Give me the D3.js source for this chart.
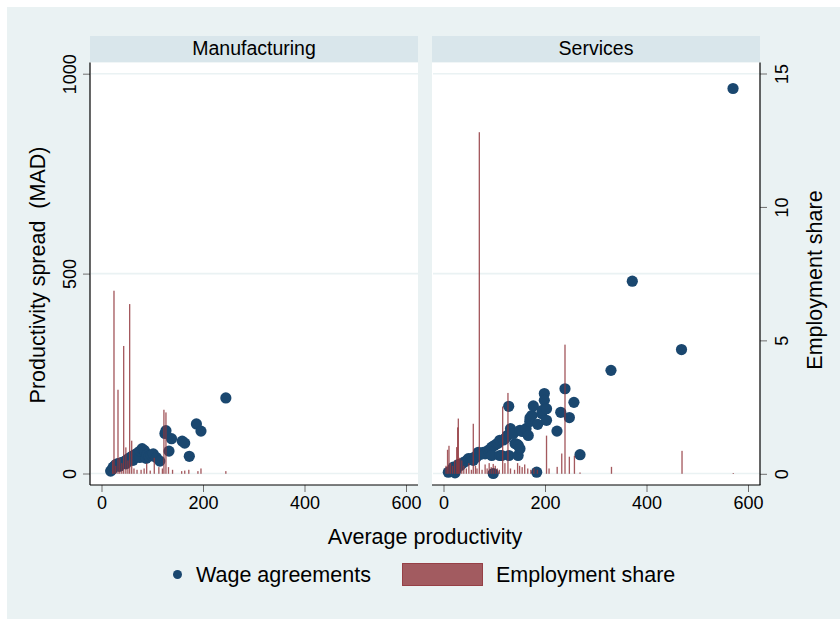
<!DOCTYPE html>
<html>
<head>
<meta charset="utf-8">
<script src="https://cdn.jsdelivr.net/npm/d3@7/dist/d3.min.js"></script>
<style>
  html, body { margin: 0; padding: 0; background: #ffffff; }
  svg { display: block; font-family: "Liberation Sans", Arial, sans-serif; }
</style>
</head>
<body>
<svg id="chart" width="840" height="619"></svg>
<script>
// Panels
const panelNames = ["Manufacturing", "Services"];

// Wage agreements: [average productivity, productivity spread (MAD)]
const manufacturingPoints = [
  [18, 6], [21, 10], [23, 16], [26, 19], [28, 22], [31, 24], [34, 25], [35, 18],
  [37, 26], [40, 27], [43, 28], [46, 31], [48, 24], [50, 34], [53, 37], [56, 39],
  [59, 42], [62, 33], [63, 45], [66, 47], [69, 49], [72, 52], [75, 40], [76, 56],
  [80, 62], [84, 58], [86, 53], [88, 38], [90, 47], [94, 43], [98, 46], [102, 49],
  [108, 40], [115, 31], [125, 100], [127, 107], [133, 56], [138, 87], [159, 81],
  [164, 76], [173, 43], [187, 124], [196, 106], [245, 189]
];
const servicesPoints = [
  [9.5, 3.3], [15, 6], [19.3, 16], [20.7, 7.5], [22.7, 1.7], [25, 10], [29, 22],
  [33, 20], [39, 27], [44, 31], [49, 37], [54, 35], [55.6, 38], [58.7, 33], [63, 42],
  [65, 41], [68.6, 53], [73, 48], [78.4, 53], [82, 49], [88.3, 58], [92, 60],
  [95, 66], [95, 45], [98, 0], [100, 70], [104.8, 74], [108, 76], [111, 83],
  [111, 45], [114.7, 45], [118, 84], [122, 88], [125.7, 95], [128.5, 168],
  [129, 45], [131, 100], [132, 112], [137.5, 100], [141, 75], [145, 73], [147, 45],
  [147.4, 70], [150.7, 62], [150.7, 108], [155, 105], [162.6, 112], [167, 95],
  [170, 130], [170.4, 139], [174, 145], [177, 169], [183.6, 3.3], [185.6, 123],
  [193.5, 150], [195, 158], [198.7, 200], [198.7, 183], [203, 162], [203, 133],
  [223.6, 106], [231, 153], [239.4, 212], [248, 140], [257, 178], [269, 47],
  [330, 258], [372, 481], [469, 310], [570.5, 963]
];

// Employment share: [average productivity, share in %]
const manufacturingShare = [
  [22, 0.5], [24.6, 6.86], [28, 0.3], [32.5, 3.15], [36, 0.6], [40, 0.4],
  [43.7, 4.79], [48, 0.99], [52, 0.5], [55.5, 6.36], [59.5, 1.24], [64, 0.2],
  [70, 0.15], [78, 0.15], [84, 0.2], [89, 0.39], [96, 0.12], [104, 0.6],
  [113, 0.25], [120, 0.2], [123, 2.4], [127, 2.3], [132, 0.25], [140, 0.15],
  [158, 0.1], [164, 0.12], [172, 0.15], [190, 0.1], [196, 0.2], [245, 0.1]
];
const servicesShare = [
  [5, 0.3], [8, 0.9], [10.8, 1.05], [14, 0.4], [18, 0.3], [22, 0.5], [26, 1.0],
  [28, 1.74], [29.2, 2.07], [32, 0.6], [36, 0.5], [40, 0.3], [45, 0.2], [50, 0.4],
  [55, 0.15], [58.7, 1.875], [63, 0.3], [66, 0.2], [70.6, 12.8], [76, 0.15],
  [82, 0.35], [86, 0.2], [90, 0.4], [94, 0.25], [98, 0.37], [102, 0.3], [106, 0.2],
  [110, 0.15], [116.6, 2.52], [121, 0.4], [127, 3.03], [132, 0.2], [140, 0.15],
  [146, 0.4], [150, 0.3], [155, 0.25], [160, 0.35], [166, 0.2], [172, 0.15],
  [178, 0.2], [185, 0.15], [203, 1.43], [208, 0.2], [224, 0.26], [233, 0.76],
  [239.4, 4.84], [248, 0.64], [258, 0.675], [269, 0.05], [331, 0.26], [470, 0.86],
  [571, 0.03]
];

// Axis ticks
const xTicks = [0, 200, 400, 600];
const yTicks = [0, 500, 1000];
const shareTicks = [0, 5, 10, 15];

const colors = {
  outer: "#eaf2f3",
  header: "#d9e6eb",
  grid: "#eaf2f3",
  point: "#1a476f",
  bar: "#90353b",
  tick: "#6e6e6e"
};

const svg = d3.select("#chart");

// Outer background
svg.append("rect").attr("x", 7).attr("y", 7).attr("width", 833).attr("height", 612)
  .attr("fill", colors.outer);

const plotTop = 62.5, plotBottom = 485, headerTop = 36;
const panels = [
  { name: panelNames[0], left: 90, right: 418, points: manufacturingPoints, share: manufacturingShare },
  { name: panelNames[1], left: 432, right: 760, points: servicesPoints, share: servicesShare }
];

const y = d3.scaleLinear().domain([0, 1000]).range([473.5, 73.7]);
const yShare = d3.scaleLinear().domain([0, 15]).range([473.8, 73.5]);

panels.forEach((p, i) => {
  const x = d3.scaleLinear().domain([0, 600]).range([p.left + 11.5, p.left + 316]);
  const g = svg.append("g");

  // header strip
  g.append("rect").attr("x", p.left).attr("y", headerTop)
    .attr("width", p.right - p.left).attr("height", plotTop - headerTop)
    .attr("fill", colors.header);
  g.append("text").attr("x", (p.left + p.right) / 2).attr("y", 55)
    .attr("text-anchor", "middle").attr("font-size", 19.5).attr("fill", "#000")
    .text(p.name);

  // plot region
  g.append("rect").attr("x", p.left).attr("y", plotTop)
    .attr("width", p.right - p.left).attr("height", plotBottom - plotTop)
    .attr("fill", "#ffffff");

  // gridlines
  g.selectAll(".grid").data(yTicks).enter().append("line")
    .attr("x1", p.left + 1).attr("x2", p.right)
    .attr("y1", d => y(d)).attr("y2", d => y(d))
    .attr("stroke", colors.grid).attr("stroke-width", 1.6);

  // wage agreements
  g.selectAll(".pt").data(p.points).enter().append("circle")
    .attr("cx", d => x(d[0])).attr("cy", d => y(d[1])).attr("r", 5.6)
    .attr("fill", colors.point);

  // employment share spikes
  g.selectAll(".bar").data(p.share).enter().append("rect")
    .attr("x", d => x(d[0] - 1.3))
    .attr("width", d => x(d[0] + 1.3) - x(d[0] - 1.3))
    .attr("y", d => yShare(d[1]))
    .attr("height", d => yShare(0) - yShare(d[1]))
    .attr("fill", colors.bar).attr("fill-opacity", 0.82);

  // x axis
  const xa = g.append("g").attr("transform", `translate(0,${plotBottom})`)
    .call(d3.axisBottom(x).tickValues(xTicks).tickSize(7).tickPadding(4).tickFormat(d3.format("d")));
  xa.select(".domain").remove();
  xa.selectAll(".tick line").attr("stroke", colors.tick);
  xa.selectAll(".tick text").attr("font-size", 18).attr("fill", "#000")
    .attr("font-family", "Liberation Sans, Arial, sans-serif");
  g.append("line").attr("x1", p.left).attr("x2", p.right + (i === 1 ? 0.5 : 0))
    .attr("y1", plotBottom).attr("y2", plotBottom).attr("stroke", "#000").attr("stroke-width", 1.2);

  if (i === 0) {
    // left axis
    const ya = g.append("g").attr("transform", `translate(${p.left},0)`)
      .call(d3.axisLeft(y).tickValues(yTicks).tickSize(7).tickFormat(d3.format("d")));
    ya.select(".domain").remove();
    ya.selectAll(".tick line").attr("stroke", colors.tick);
    ya.selectAll(".tick text").remove();
    ya.selectAll(".tick").append("text")
      .attr("transform", "translate(-14,0) rotate(-90)")
      .attr("text-anchor", "middle").attr("font-size", 18).attr("fill", "#000")
      .attr("font-family", "Liberation Sans, Arial, sans-serif")
      .text(d => d);
    g.append("line").attr("x1", p.left).attr("x2", p.left)
      .attr("y1", plotTop).attr("y2", plotBottom).attr("stroke", "#000").attr("stroke-width", 1.2);
  } else {
    // right axis for employment share
    const ra = g.append("g").attr("transform", `translate(${p.right},0)`)
      .call(d3.axisRight(yShare).tickValues(shareTicks).tickSize(7).tickFormat(d3.format("d")));
    ra.select(".domain").remove();
    ra.selectAll(".tick line").attr("stroke", colors.tick);
    ra.selectAll(".tick text").remove();
    ra.selectAll(".tick").append("text")
      .attr("transform", "translate(28,0) rotate(-90)")
      .attr("text-anchor", "middle").attr("font-size", 18).attr("fill", "#000")
      .attr("font-family", "Liberation Sans, Arial, sans-serif")
      .text(d => d);
    g.append("line").attr("x1", p.right).attr("x2", p.right)
      .attr("y1", plotTop).attr("y2", plotBottom).attr("stroke", "#000").attr("stroke-width", 1.2);
  }
});

// axis titles
svg.append("text").attr("transform", "translate(45,275) rotate(-90)")
  .attr("text-anchor", "middle").attr("font-size", 21.5).style("white-space", "pre")
  .text("Productivity spread  (MAD)");
svg.append("text").attr("transform", "translate(822,280) rotate(-90)")
  .attr("text-anchor", "middle").attr("font-size", 21.5)
  .text("Employment share");
svg.append("text").attr("x", 425).attr("y", 544)
  .attr("text-anchor", "middle").attr("font-size", 21.5)
  .text("Average productivity");

// legend
const legend = svg.append("g");
legend.append("circle").attr("cx", 177.5).attr("cy", 574.5).attr("r", 4.5).attr("fill", colors.point);
legend.append("text").attr("x", 196).attr("y", 582).attr("font-size", 21.5).text("Wage agreements");
legend.append("rect").attr("x", 402.5).attr("y", 563.5).attr("width", 80).attr("height", 22)
  .attr("fill", colors.bar).attr("fill-opacity", 0.8)
  .attr("stroke", colors.bar).attr("stroke-opacity", 0.9);
legend.append("text").attr("x", 496).attr("y", 582).attr("font-size", 21.5).text("Employment share");
</script>
</body>
</html>
